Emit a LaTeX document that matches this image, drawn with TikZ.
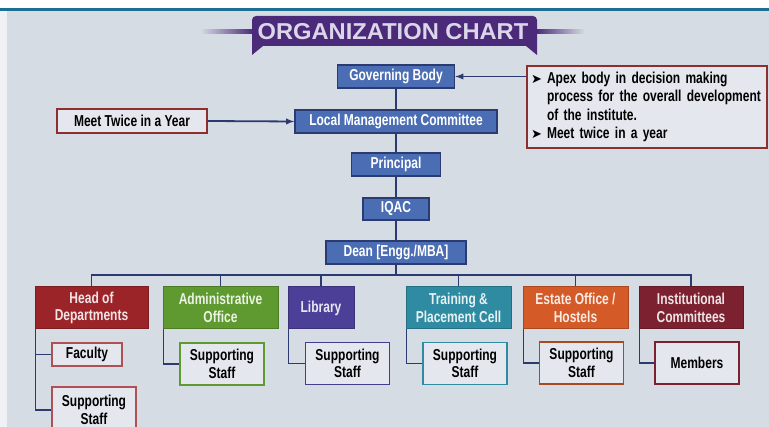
\documentclass[tikz,border=0pt]{standalone}
\usepackage{fontspec}
\setmainfont{Liberation Sans}[FakeStretch=0.76]
\newfontfamily\titlefont{Liberation Sans}[FakeStretch=1.03]
\newfontfamily\symfont{DejaVu Sans}
\definecolor{bg}{HTML}{D6DCE3}
\definecolor{navy}{HTML}{2C3A72}
\definecolor{boxblue}{HTML}{4A6DB3}
\definecolor{hodred}{HTML}{9B2429}
\definecolor{admgreen}{HTML}{5E9A30}
\definecolor{libpurple}{HTML}{4B3F97}
\definecolor{tpcteal}{HTML}{2E8BA2}
\definecolor{estorange}{HTML}{D45A27}
\definecolor{instmaroon}{HTML}{7B2130}
\definecolor{notered}{HTML}{8E2F2F}
\definecolor{subfill}{HTML}{E4E8EE}
\definecolor{titlepurple}{HTML}{4B2A7A}
\definecolor{titletext}{HTML}{DCD6EA}
\definecolor{topblue}{HTML}{1D6E93}
\newcommand{\arrbullet}{\makebox[16pt][l]{\symfont\fontsize{13}{18}\selectfont ➤}}

\begin{document}
\begin{tikzpicture}[x=1pt,y=-1pt,
  conn/.style={draw=navy,line width=1.8pt},
  txt/.style={font=\fontsize{15.8}{17.5}\selectfont\bfseries,align=center,inner sep=0pt},
  bluebox/.style={txt,fill=boxblue,draw=navy,line width=1.5pt,text=white,minimum height=23pt},
  deptbox/.style={txt,fill=#1,draw=#1!80!black,line width=1pt,text=white!88!#1,minimum height=42pt},
  subbox/.style={txt,fill=subfill,draw=#1,line width=1.3pt,text=black,minimum height=42pt,minimum width=84pt},
  notebox/.style={txt,fill=subfill,draw=notered,line width=1.3pt,text=black}]
\useasboundingbox (0,0) rectangle (769,427);
\fill[bg] (0,0) rectangle (769,427);
\fill[white] (0,0) rectangle (769,8);
\fill[white!60!bg] (0,8) rectangle (7,427);
\fill[topblue] (0,8) rectangle (769,11);

\shade[left color=bg,right color=titlepurple] (200,30) rectangle (253,34);
\shade[left color=titlepurple,right color=bg] (536,30) rectangle (585,34);
\fill[titlepurple,rounded corners=4pt] (252,16) rectangle (537,46);
\fill[titlepurple] (252,42) -- (252,55) -- (263,46) -- cycle;
\fill[titlepurple] (537,42) -- (537,55) -- (526,46) -- cycle;
\node[text=titletext,font=\titlefont\fontsize{23}{25}\selectfont\bfseries] (title) at (393,32) {ORGANIZATION CHART};

\node[bluebox,minimum width=117pt] (gov) at (396,76.5) {Governing Body};
\node[bluebox,minimum width=202pt] (lmc) at (396,121.5) {Local Management Committee};
\node[bluebox,minimum width=89pt] (prin) at (396,164.5) {Principal};
\node[bluebox,minimum width=66pt,minimum height=22pt] (iqac) at (396,209) {IQAC};
\node[bluebox,minimum width=140pt] (dean) at (396,252.5) {Dean [Engg./MBA]};

\node[notebox,minimum width=150pt,minimum height=24pt] (meet) at (132,121) {Meet Twice in a Year};
\node[notebox,minimum width=240pt,minimum height=82pt,align=left,text width=232pt,
  font=\fontsize{15.8}{18.5}\selectfont\bfseries] (apex) at (647,107)
  {\arrbullet Apex body in decision making\\
   \hspace*{16pt}process for the overall development\\
   \hspace*{16pt}of the institute.\\
   \arrbullet Meet twice in a year};

\draw[conn,-latex] (apex.west |- gov) -- (gov.east);
\draw[conn,-latex] (meet.east) -- (lmc.west);
\draw[conn] (gov) -- (lmc);
\draw[conn] (lmc) -- (prin);
\draw[conn] (prin) -- (iqac);
\draw[conn] (iqac) -- (dean);

\node[deptbox=hodred,minimum width=113pt] (hod) at (91.5,308) {Head of\\Departments};
\node[deptbox=admgreen,minimum width=115pt] (adm) at (220.5,308) {Administrative\\Office};
\node[deptbox=libpurple,minimum width=66pt] (lib) at (321,308) {Library};
\node[deptbox=tpcteal,minimum width=105pt] (tpc) at (458.5,308) {Training \&\\Placement Cell};
\node[deptbox=estorange,minimum width=105pt] (est) at (575.5,308) {Estate Office /\\Hostels};
\node[deptbox=instmaroon,minimum width=104pt] (inst) at (691,308) {Institutional\\Committees};

\coordinate (bus) at (0,275);
\draw[conn] (dean.south) -- (dean.south |- bus);
\draw[conn] (hod.north) -- (hod.north |- bus) -- (inst.north |- bus) -- (inst.north);
\foreach \d in {adm,lib,tpc,est}
  \draw[conn] (\d.north) -- (\d.north |- bus);

\node[subbox=hodred!80,minimum width=70pt,minimum height=23pt] (fac) at (87,354.5) {Faculty};
\node[subbox=hodred!80,minimum height=46pt] (hsup) at (94,410) {Supporting\\Staff};
\node[subbox=admgreen] (asup) at (222,364) {Supporting\\Staff};
\node[subbox=libpurple!80!navy] (lsup) at (347.5,363.5) {Supporting\\Staff};
\node[subbox=tpcteal] (tsup) at (465,363.5) {Supporting\\Staff};
\node[subbox=estorange!80!black] (esup) at (581.5,363) {Supporting\\Staff};
\node[subbox=instmaroon] (mem) at (697,363) {Members};

\draw[conn] ([xshift=1pt]hod.south west) |- (fac.west);
\draw[conn] ([xshift=1pt]hod.south west) |- (hsup.west);
\draw[conn] ([xshift=1pt]adm.south west) |- (asup.west);
\draw[conn] ([xshift=1pt]lib.south west) |- (lsup.west);
\draw[conn] ([xshift=1pt]tpc.south west) |- (tsup.west);
\draw[conn] ([xshift=1pt]est.south west) |- (esup.west);
\draw[conn] ([xshift=1pt]inst.south west) |- (mem.west);
\end{tikzpicture}
\end{document}
